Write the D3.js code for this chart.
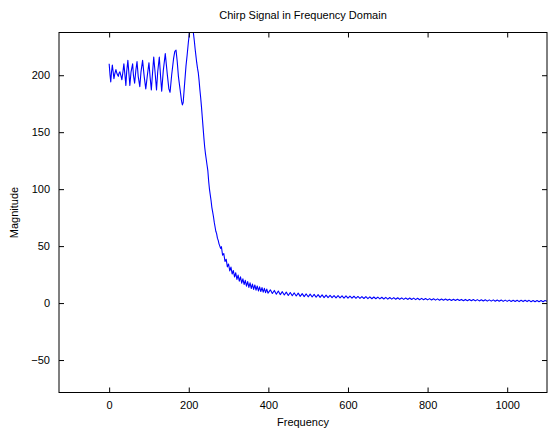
<!DOCTYPE html>
<html>
<head>
<meta charset="utf-8">
<title>Chirp Signal in Frequency Domain</title>
<script src="https://d3js.org/d3.v7.min.js"></script>
<style>
  body { margin: 0; background: #fff; }
  text { font-family: 'Liberation Sans', Arial, sans-serif; font-size: 11px; fill: #000; }
</style>
</head>
<body>
<svg id="chart" width="557" height="432"></svg>
<script>
// values
var frequency = [
  0,2,4,6,8,10,12,14,17,20,23,25,27,30,32,35,37,40,42,44,47,50,52,55,59,61,64,67,70,73,
  77,80,84,88,92,96,100,103,106,109,112,116,119,122,126,129,132,136,141,146,150,153,157,162,165,168,171,174,178,182,
  184,186,189,193,196,199,202,204,206,208,210,212,214,216,218,220,222,224,226,228,230,232,234,236,238,240,242,244,246,248,
  250,252,254,256,258,260,262,264,266,268,270,272,274,276,278,280,
  282,285,288,291,294,297,300,303,306,309,312,315,318,321,324,327,330,333,336,339,
  342,345,348,351,354,357,360,363,366,369,372,375,378,381,384,387,390,393,396,399,
  405,410,415,420,425,430,435,440,445,450,455,460,465,470,475,480,485,490,495,500,
  505,510,515,520,525,530,535,540,545,550,555,560,565,570,575,580,585,590,595,600,
  605,610,615,620,625,630,635,640,645,650,655,660,665,670,675,680,685,690,695,700,
  705,710,715,720,725,730,735,740,745,750,755,760,765,770,775,780,785,790,795,800,
  805,810,815,820,825,830,835,840,845,850,855,860,865,870,875,880,885,890,895,900,
  905,910,915,920,925,930,935,940,945,950,955,960,965,970,975,980,985,990,995,1000,
  1005,1010,1015,1020,1025,1030,1035,1040,1045,1050,1055,1060,1065,1070,1075,1080,1085,1090,1095,1100
];
var magnitude = [
  210,201,194,203,209,203,197,201,205,201,199,202,203,199,196,204,210,199,191,203,213,200,191,203,210,200,193,204,212,199,
  190,203,213,199,188,200,211,198,187,202,216,200,187,203,216,200,186,204,219,201,188,185,200,215,221,222,212,199,188,177,
  174,176,190,208,218,229,238,243,240,238,242,236,230,223,217,211,206,202,195,187,180,172,163,154,145,137,131,126,121,116,
  107,100,95,90,84,80,76,71,67,63,61,57,55,52,50,48,
  49.5,42.0,43.5,36.5,38.5,31.8,34.3,28.2,31.6,25.5,28.6,22.9,26.6,20.8,24.6,19.2,23.0,17.5,21.3,16.3,
  20.0,14.9,18.9,13.7,17.7,12.8,16.7,12.0,15.9,11.3,15.0,10.6,14.3,10.1,13.6,9.6,12.9,9.1,12.3,8.7,
  11.6,8.4,11.1,7.8,10.6,7.4,10.0,7.1,9.6,6.7,9.3,6.4,8.9,6.2,8.7,5.9,8.3,5.7,8.0,5.5,
  7.8,5.3,7.6,5.1,7.4,5.0,7.2,4.8,7.0,4.8,6.8,4.7,6.6,4.6,6.5,4.5,6.4,4.4,6.3,4.3,
  6.1,4.3,6.0,4.2,5.8,4.1,5.7,4.0,5.6,3.9,5.5,3.8,5.3,3.8,5.2,3.7,5.1,3.6,5.0,3.5,
  4.9,3.5,4.8,3.4,4.7,3.3,4.6,3.2,4.5,3.2,4.4,3.1,4.3,3.0,4.2,2.9,4.1,2.9,4.0,2.8,
  3.9,2.7,3.8,2.6,3.7,2.5,3.6,2.5,3.5,2.4,3.4,2.3,3.4,2.3,3.3,2.2,3.2,2.1,3.2,2.1,
  3.1,2.0,3.1,1.9,3.0,1.9,2.9,1.8,2.9,1.7,2.8,1.7,2.8,1.6,2.7,1.6,2.7,1.5,2.6,1.5,
  2.6,1.4,2.5,1.4,2.5,1.3,2.4,1.3,2.4,1.3,2.4,1.2,2.3,1.2,2.3,1.2,2.3,1.1,2.2,1.5
];
var xTicks = [0, 200, 400, 600, 800, 1000];
var yTicks = [-50, 0, 50, 100, 150, 200];

var svg = d3.select("#chart");
var x0 = 59, x1 = 547, y0 = 32.5, y1 = 392.5;

var x = d3.scaleLinear().domain([-126, 1100]).range([x0, x1]);
var y = d3.scaleLinear().domain([-78.5, 237.5]).range([y1, y0]);

svg.append("rect").attr("width", 557).attr("height", 432).attr("fill", "#fff");

svg.append("clipPath").attr("id", "clip")
  .append("rect").attr("x", x0).attr("y", y0)
  .attr("width", x1 - x0).attr("height", y1 - y0);

var points = frequency.map(function (f, i) { return [f, magnitude[i]]; });

svg.append("path")
  .datum(points)
  .attr("clip-path", "url(#clip)")
  .attr("fill", "none")
  .attr("stroke", "#0000ff")
  .attr("stroke-width", 1.1)
  .attr("stroke-linejoin", "round")
  .attr("d", d3.line().x(function (d) { return x(d[0]); }).y(function (d) { return y(d[1]); }));

// axes: inward ticks, mirrored on top and right
var tk = 5;
svg.append("g").attr("transform", "translate(0," + y1 + ")")
  .call(d3.axisBottom(x).tickValues(xTicks).tickSizeInner(-tk).tickSizeOuter(0).tickPadding(9).tickFormat(d3.format("d")));
svg.append("g").attr("transform", "translate(0," + y0 + ")")
  .call(d3.axisTop(x).tickValues(xTicks).tickSizeInner(-tk).tickSizeOuter(0).tickFormat(""));
svg.append("g").attr("transform", "translate(" + x0 + ",0)")
  .call(d3.axisLeft(y).tickValues(yTicks).tickSizeInner(-tk).tickSizeOuter(0).tickPadding(9).tickFormat(d3.format("d")));
svg.append("g").attr("transform", "translate(" + x1 + ",0)")
  .call(d3.axisRight(y).tickValues(yTicks).tickSizeInner(-tk).tickSizeOuter(0).tickFormat(""));

svg.selectAll(".domain").remove();
svg.selectAll(".tick line").attr("stroke", "#000");
svg.selectAll(".tick text").attr("font-family", "'Liberation Sans', Arial, sans-serif").attr("font-size", 12).attr("fill", "#000");

svg.append("rect")
  .attr("x", x0).attr("y", y0)
  .attr("width", x1 - x0).attr("height", y1 - y0)
  .attr("fill", "none").attr("stroke", "#000").attr("stroke-width", 1);

svg.append("text").attr("x", (x0 + x1) / 2).attr("y", 19)
  .attr("text-anchor", "middle").attr("font-size", 12).text("Chirp Signal in Frequency Domain");
svg.append("text").attr("x", (x0 + x1) / 2).attr("y", 426)
  .attr("text-anchor", "middle").attr("font-size", 12).text("Frequency");
svg.append("text").attr("transform", "translate(18," + ((y0 + y1) / 2) + ") rotate(-90)")
  .attr("text-anchor", "middle").attr("font-size", 12).text("Magnitude");
</script>
</body>
</html>
